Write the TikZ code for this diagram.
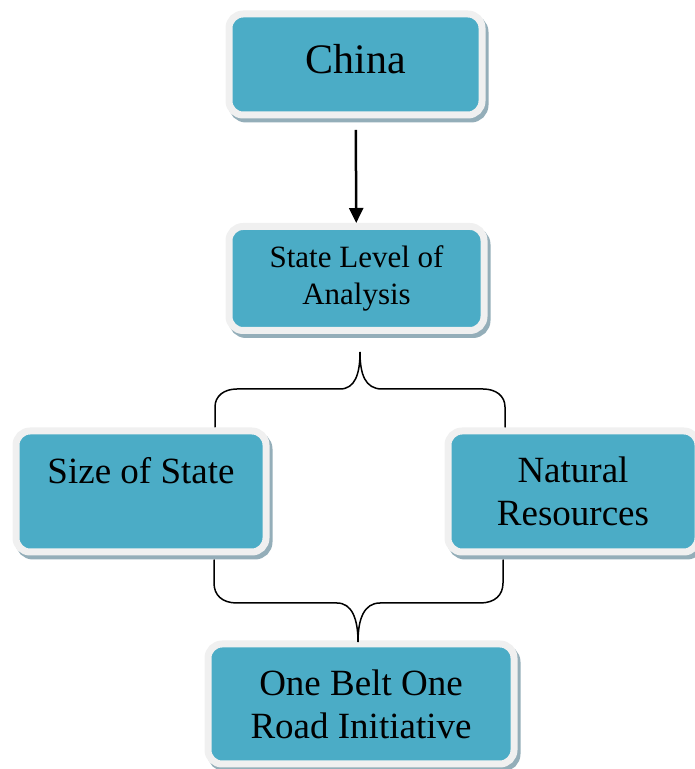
\documentclass[tikz,border=0pt]{standalone}
\usepackage{fontspec}
\setmainfont{Liberation Serif}
\usetikzlibrary{positioning,arrows.meta}

\definecolor{boxteal}{HTML}{4BACC6}
\definecolor{boxrim}{HTML}{F0F0F0}
\definecolor{boxshade}{HTML}{94AEB9}

\begin{document}
\begin{tikzpicture}[x=1pt,y=1pt,
    box/.style={draw=boxrim, fill=boxteal, line width=7pt, rounded corners=14pt,
        align=center, inner sep=0pt,
        preaction={draw=boxshade, fill=boxshade, line width=7pt,
            transform canvas={xshift=3pt,yshift=-4pt}}},
    bigtext/.style={font=\fontsize{37}{43}\selectfont},
    brace/.style={line width=1.5pt, line cap=round}]
    \useasboundingbox (0,0) rectangle (695,769);

    % Top box
    \node[box, minimum width=253, minimum height=101, text depth=12pt,
        font=\fontsize{42}{48}\selectfont] (china) at (355.5,704.5) {China};

    % Level of analysis
    \node[box, minimum width=255, minimum height=104,
        font=\fontsize{31}{37}\selectfont] (state) at (356.5,490.5) {State Level of\\Analysis};

    % Two factors
    \node[box, bigtext, minimum width=250, minimum height=121] (size) at (141,277.5) {Size of State\\\mbox{}};
    \node[box, bigtext, minimum width=250, minimum height=121] (natural) at (573,277.5) {Natural\\Resources};

    % Outcome
    \node[box, bigtext, minimum width=306, minimum height=120] (obor) at (361,65) {One Belt One\\Road Initiative};

    % Arrow
    \draw[line width=2.5pt, shorten <=11.5pt, -{Triangle[length=15pt,width=14pt]}] (china) -- (state);

    % Upper brace
    \coordinate (uptip) at (360,417);
    \coordinate (upleft) at (215,342);
    \coordinate (upright) at (505,342);
    \draw[brace] (upleft) -- (215,362) .. controls (215,373) and (224,380) .. (237,380)
        -- (340,380) .. controls (355,380) and (360,395) .. (uptip)
        .. controls (360,395) and (365,380) .. (382,380)
        -- (483,380) .. controls (496,380) and (505,373) .. (505,362) -- (upright);

    % Lower brace
    \coordinate (lowtip) at (358,127);
    \coordinate (lowleft) at (214,209);
    \coordinate (lowright) at (503,209);
    \draw[brace] (lowleft) -- (214,186) .. controls (214,174) and (222,166) .. (237,166)
        -- (337,166) .. controls (352,166) and (358,150) .. (lowtip)
        .. controls (358,150) and (364,166) .. (380,166)
        -- (480,166) .. controls (495,166) and (503,174) .. (503,186) -- (lowright);
\end{tikzpicture}
\end{document}
